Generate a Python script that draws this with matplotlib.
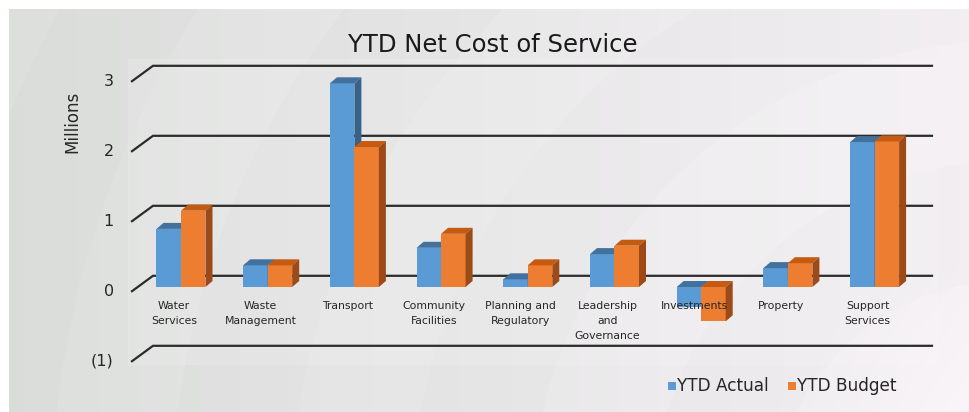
import numpy as np
import matplotlib
matplotlib.use("Agg")
import matplotlib.pyplot as plt
from matplotlib.patches import Polygon, Rectangle

# data (millions)
categories = ["Water\nServices", "Waste\nManagement", "Transport", "Community\nFacilities",
              "Planning and\nRegulatory", "Leadership\nand\nGovernance", "Investments",
              "Property", "Support\nServices"]
ytd_actual = [0.83, 0.31, 2.91, 0.56, 0.11, 0.47, -0.29, 0.27, 2.07]
ytd_budget = [1.09, 0.31, 2.00, 0.76, 0.31, 0.59, -0.49, 0.34, 2.08]
y_ticks = [3, 2, 1, 0, -1]
y_ticklabels = ["3", "2", "1", "0", "(1)"]

blue = ("#5b9bd5", "#41719c", "#37628c")    # front, top, side
orange = ("#ed7d31", "#c55a11", "#9c4a17")

W, H = 970, 412
fig = plt.figure(figsize=(W / 100, H / 100), dpi=100)

# background: grey-green on the left, pale pink-white on the right, faint arcs
bg = fig.add_axes([0, 0, 1, 1])
yy, xx = np.mgrid[0:H, 0:W]
t = xx / W
r = np.hypot(xx - 1010, yy - 520)
bands = 0.010 * (np.floor(r / 120) % 2)
glow = 0.03 * np.clip(1 - r / 260, 0, 1)
red = 0.855 + 0.095 * t + bands + glow
grn = 0.865 + 0.07 * t + bands + glow
blu = 0.855 + 0.095 * t + bands + glow
img = np.clip(np.dstack([red, grn, blu]), 0, 1)
img[:9, :] = 1.0
img[:, :9] = 1.0
bg.imshow(img, aspect="auto", extent=[0, W, H, 0])
bg.set_xlim(0, W)
bg.set_ylim(H, 0)
bg.axis("off")

# plot area, in pixels 128..938 x 59..365; zero at y=287, 70 px per million
px_left, px_right, px_top, px_bot = 128, 938, 59, 365
zero_px, per_m = 287, 70.0
cat_px, cat_w = 181, 86.7
ax = fig.add_axes([px_left / W, 1 - px_bot / H, (px_right - px_left) / W, (px_bot - px_top) / H])
ax.set_xlim((px_left - cat_px) / cat_w, (px_right - cat_px) / cat_w)
ax.set_ylim(-(px_bot - zero_px) / per_m, (zero_px - px_top) / per_m)
ax.axis("off")
ax.add_patch(Rectangle((0, 0), 1, 1, transform=ax.transAxes, facecolor="white",
                       alpha=0.12, edgecolor="white", lw=0.8, zorder=0))

# walls: back gridlines plus the left diagonal
x_front = (132 - cat_px) / cat_w
x_back = (153 - cat_px) / cat_w
x_end = (932 - cat_px) / cat_w
a, b = 0.06, 0.16
for v, lab in zip(y_ticks, y_ticklabels):
    ax.plot([x_front, x_back, x_end], [v - a, v + b, v + b], color="#2b2b2b", lw=1.6,
            solid_joinstyle="miter", zorder=1)
    ax.text(x_front - 0.21, v - a, lab, ha="right", va="center", fontsize=11.5, color="#262626")

# 3-d looking bars
bw = 24.5 / cat_w
dxb, dyb = 7 / cat_w, 6 / per_m
x = np.arange(len(categories))


def bar3d(xl, val, cols, z):
    front, top, side = cols
    ax.bar(xl, val, width=bw, align="edge", color=front, zorder=z)
    yt = max(val, 0)
    yb = min(val, 0)
    ax.add_patch(Polygon([(xl, yt), (xl + bw, yt), (xl + bw + dxb, yt + dyb), (xl + dxb, yt + dyb)],
                         closed=True, facecolor=top, edgecolor="none", zorder=z))
    ax.add_patch(Polygon([(xl + bw, yb), (xl + bw + dxb, yb + dyb), (xl + bw + dxb, yt + dyb), (xl + bw, yt)],
                         closed=True, facecolor=side, edgecolor="none", zorder=z))


for i in x:
    bar3d(i - bw, ytd_actual[i], blue, 3)
    bar3d(i, ytd_budget[i], orange, 4)
    # labels sit on the front floor, a little left of the bars
    ax.text(i - 0.08, -0.2, categories[i], ha="center", va="top", fontsize=7.8, color="#262626",
            linespacing=1.62, zorder=6)

fig.text(493 / W, 1 - 45 / H, "YTD Net Cost of Service", ha="center", va="center",
         fontsize=17.5, color="#1a1a1a")
fig.text(72 / W, 1 - 122 / H, "Millions", ha="center", va="center", rotation=90,
         fontsize=12, color="#262626")

# legend
for sx, tx, name, col in [(668, 677, "YTD Actual", blue[0]), (788, 797, "YTD Budget", orange[0])]:
    fig.patches.append(Rectangle((sx / W, 1 - 390 / H), 8 / W, 8 / H, transform=fig.transFigure,
                                 facecolor=col, edgecolor="none"))
    fig.text(tx / W, 1 - 386 / H, name, ha="left", va="center", fontsize=12.2, color="#262626")

fig.savefig("out.png", dpi=100)
